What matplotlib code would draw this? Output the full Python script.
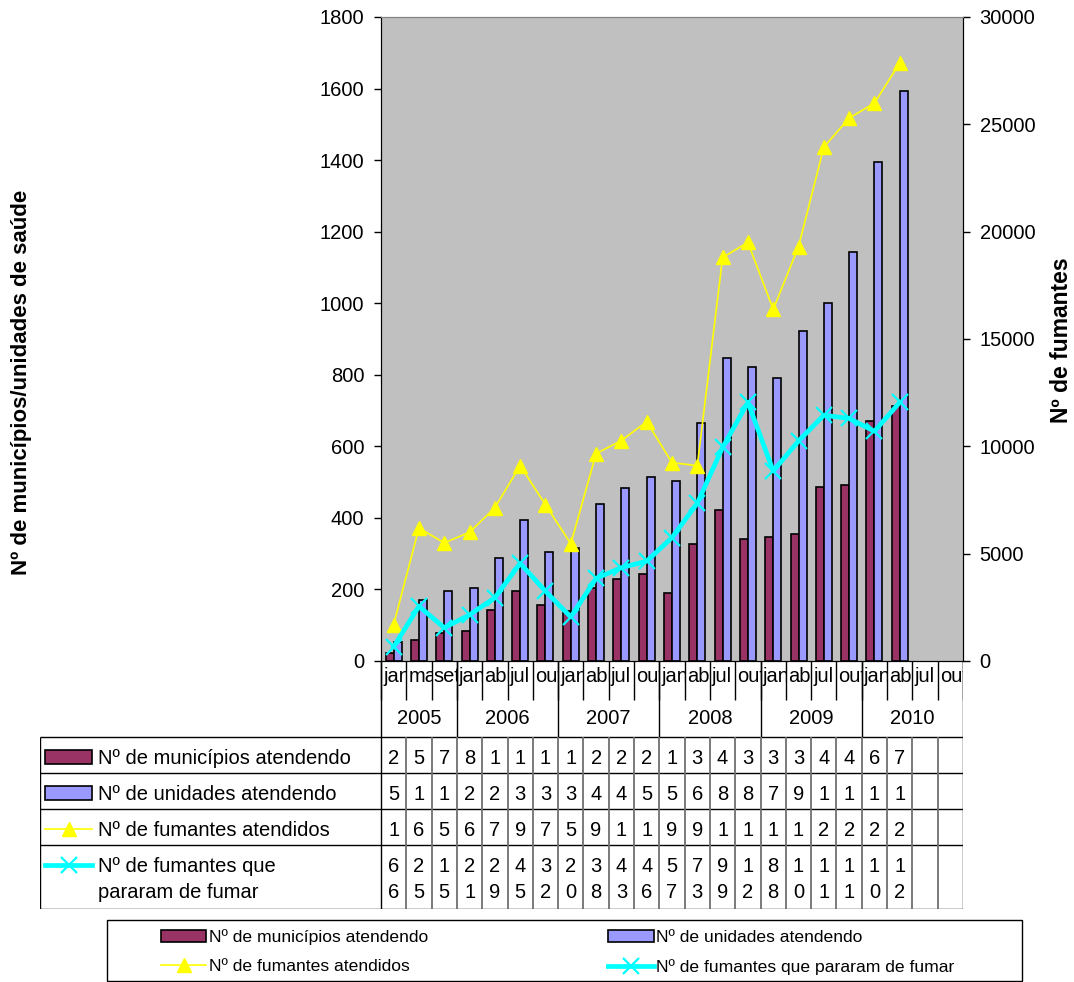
import matplotlib
matplotlib.use("Agg")
import matplotlib.pyplot as plt
from matplotlib.patches import Rectangle
from matplotlib.transforms import Bbox, TransformedBbox

plt.rcParams.update({"font.family": ["Liberation Sans", "DejaVu Sans"], "font.size": 14})

months = ["jan", "mai", "set"] + ["jan", "abr", "jul", "out"] * 5
years = ["2005", "2006", "2007", "2008", "2009", "2010"]
year_span = [3, 4, 4, 4, 4, 4]
municipios = [22, 58, 78, 83, 143, 196, 156, 140, 203, 230, 244, 190, 328, 423, 342,
              347, 356, 487, 493, 672, 714]
unidades = [52, 171, 196, 204, 288, 395, 305, 316, 438, 483, 513, 502, 664, 846, 823,
            792, 921, 1000, 1143, 1396, 1593]
atendidos = [1700, 6200, 5500, 6000, 7140, 9100, 7280, 5460, 9660, 10270, 11150, 9240,
             9100, 18800, 19500, 16380, 19300, 23940, 25290, 25990, 27860]
pararam = [665, 2550, 1550, 2150, 2950, 4550, 3250, 2050, 3850, 4350, 4650, 5750, 7350,
           9950, 12050, 8850, 10250, 11450, 11300, 10700, 12050]
labels = ["Nº de municípios atendendo", "Nº de unidades atendendo",
          "Nº de fumantes atendidos", "Nº de fumantes que pararam de fumar"]

W, H = 1074, 982
fx = lambda px: px / W
fy = lambda py: 1 - py / H

MAROON, BLUE, YELLOW, CYAN = "#993366", "#9999FF", "#FFFF00", "#00FFFF"

fig = plt.figure(figsize=(W / 100, H / 100), dpi=100)

# ---- main chart -------------------------------------------------------------
L, R, T, B = 381, 963, 17, 661
ax = fig.add_axes([fx(L), fy(B), (R - L) / W, (B - T) / H])
ax.set_facecolor("#C0C0C0")
n = len(months)
xs = list(range(len(municipios)))
bw = 0.316
b1 = ax.bar([x - bw / 2 for x in xs], municipios, bw, color=MAROON, edgecolor="black", lw=1.2)
b2 = ax.bar([x + bw / 2 for x in xs], unidades, bw, color=BLUE, edgecolor="black", lw=1.2)
ax.set_xlim(-0.5, n - 0.5)
ax.set_ylim(0, 1800)
ax.set_yticks(range(0, 1801, 200))
ax.set_xticks([])
ax.tick_params(axis="y", direction="out", length=5, width=1, labelsize=14.5, pad=7)

ax2 = ax.twinx()
l1, = ax2.plot(xs, atendidos, color=YELLOW, lw=1.2, marker="^", ms=10, mec=YELLOW)
l2, = ax2.plot(xs, pararam, color=CYAN, lw=3.4, marker="x", ms=12, mew=1.6)
ax2.set_ylim(0, 30000)
ax2.set_yticks(range(0, 30001, 5000))
ax2.tick_params(axis="y", direction="out", length=5, width=1, labelsize=14.5, pad=7)
for a in (ax, ax2):
    a.spines["top"].set_color("#808080")
    a.spines["left"].set_color("black")
    a.spines["right"].set_color("black")
    a.spines["bottom"].set_color("black")

fig.text(fx(22), fy(382), "Nº de municípios/unidades de saúde", rotation=90,
         ha="center", va="center", fontsize=16, fontweight="bold")
fig.text(fx(1062), fy(340), "Nº de fumantes", rotation=90,
         ha="center", va="center", fontsize=16.5, fontweight="bold")

# ---- data table below the chart --------------------------------------------
TL, TB = 40, 909
cw = (R - L) / n
tab = fig.add_axes([fx(TL), fy(TB), (R - TL) / W, (TB - B) / H])
tab.axis("off")
x_left = -0.5 - (L - TL) / cw
tab.set_xlim(x_left, n - 0.5)
tab.set_ylim(-TB, -B)
tx = lambda px: -0.5 + (px - L) / cw


def vline(x, y0, y1, **kw):
    tab.plot([x, x], [-y0, -y1], solid_capstyle="butt", **kw)


def hline(y, x0, x1, **kw):
    tab.plot([x0, x1], [-y, -y], solid_capstyle="butt", **kw)


def clipped(x, y, s, box, **kw):
    t = tab.text(x, -y, s, clip_on=True, **kw)
    t.set_clip_box(TransformedBbox(Bbox.from_extents(box[0], -box[3], box[1], -box[2]),
                                   tab.transData))
    return t


MONTH_B, YEAR_B = 700, 737
rows = [737, 773, 809, 845, 909]
line_kw = dict(color="black", lw=1)
grid_kw = dict(color="#707070", lw=1.3)

# month row (labels clipped to their cell, as in the original)
for i in range(n + 1):
    vline(i - 0.5, B, MONTH_B, **line_kw)
for i, m in enumerate(months):
    clipped(i - 0.5 + 2 / cw, 676, m, (i - 0.5, i + 0.5, B, MONTH_B),
            ha="left", va="center", fontsize=14.5)
# year row
pos = -0.5
for yr, span in zip(years, year_span):
    vline(pos, B, YEAR_B, **line_kw)
    tab.text(pos + span / 2, -718, yr, ha="center", va="center", fontsize=14.5)
    pos += span
vline(pos, B, YEAR_B, **line_kw)

# table grid
for y in rows:
    hline(y, x_left, n - 0.5, **line_kw)
vline(x_left, rows[0], rows[-1], **line_kw)
vline(-0.5, rows[0], rows[-1], **line_kw)
vline(n - 0.5, rows[0], rows[-1], **line_kw)
for i in range(1, n):
    vline(i - 0.5, rows[0], rows[-1], **grid_kw)

# row headers with legend keys
key0, key1 = tx(45), tx(92)
for r, lab in enumerate(labels):
    top, bot = rows[r], rows[r + 1]
    yc = top + 20
    if r < 2:
        tab.add_patch(Rectangle((key0, -(yc + 7)), key1 - key0, 14,
                                fc=[MAROON, BLUE][r], ec="black", lw=1.2))
    elif r == 2:
        tab.plot([key0, key1], [-yc, -yc], color=YELLOW, lw=1.2)
        tab.plot([(key0 + key1) / 2], [-yc], marker="^", ms=10, color=YELLOW)
    else:
        tab.plot([key0, key1], [-yc, -yc], color=CYAN, lw=3.4)
        tab.plot([(key0 + key1) / 2], [-yc], marker="x", ms=12, mew=1.6, color=CYAN)
    txt_lines = [lab] if r < 3 else ["Nº de fumantes que", "pararam de fumar"]
    for k, s in enumerate(txt_lines):
        tab.text(tx(98), -(top + 21 + 26 * k), s, ha="left", va="center", fontsize=14.5)

# cell values: the narrow cells wrap the number one digit per line and cut off
# whatever does not fit in the row height
for r, series in enumerate([municipios, unidades, atendidos, pararam]):
    top, bot = rows[r], rows[r + 1]
    n_lines = max(1, (bot - top - 10) // 26)
    for i, v in enumerate(series):
        for k, ch in enumerate(str(v)[:n_lines]):
            tab.text(i, -(top + 21 + 26 * k), ch, ha="center", va="center", fontsize=14.5)

# ---- legend ----------------------------------------------------------------
fig.patches.append(Rectangle((fx(107), fy(981)), (1022 - 107) / W, (981 - 920) / H,
                             transform=fig.transFigure, fill=False, ec="black", lw=1))
fig.legend([b1, l1, b2, l2], [labels[0], labels[2], labels[1], labels[3]], ncol=2,
           loc="center left", bbox_to_anchor=(fx(152), fy(952)), frameon=False,
           fontsize=12.6, handlelength=2.6, handletextpad=0.15, columnspacing=10.3,
           labelspacing=0.8, borderpad=0)

fig.savefig("out.png", dpi=100)
